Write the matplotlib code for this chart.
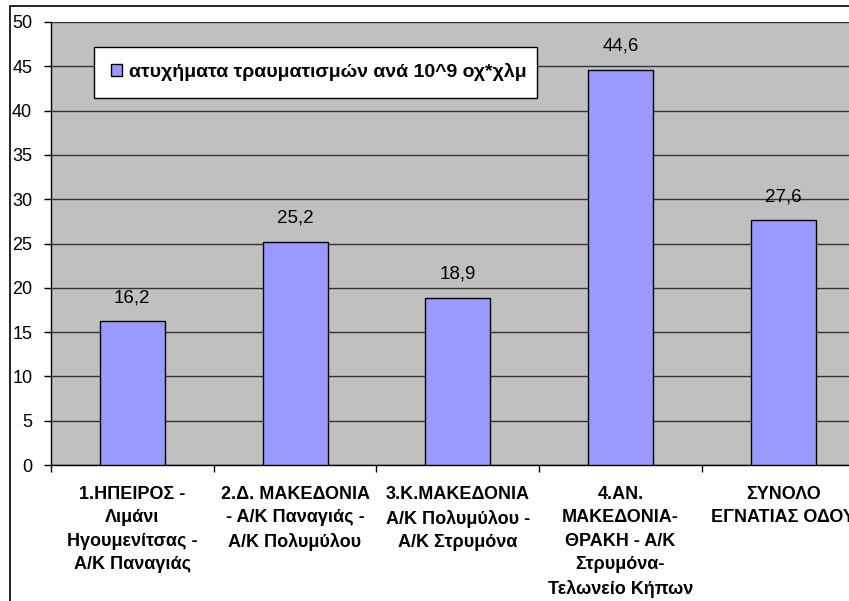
import matplotlib.pyplot as plt
from matplotlib.patches import Rectangle

plt.rcParams['font.family'] = ['Liberation Sans', 'DejaVu Sans']

categories = [
    "1.ΗΠΕΙΡΟΣ -\nΛιμάνι\nΗγουμενίτσας -\nΑ/Κ Παναγιάς",
    "2.Δ. ΜΑΚΕΔΟΝΙΑ\n- Α/Κ Παναγιάς -\nΑ/Κ Πολυμύλου",
    "3.Κ.ΜΑΚΕΔΟΝΙΑ\nΑ/Κ Πολυμύλου -\nΑ/Κ Στρυμόνα",
    "4.ΑΝ.\nΜΑΚΕΔΟΝΙΑ-\nΘΡΑΚΗ - Α/Κ\nΣτρυμόνα-\nΤελωνείο Κήπων",
    "ΣΥΝΟΛΟ\nΕΓΝΑΤΙΑΣ ΟΔΟΥ",
]
values = [16.2, 25.2, 18.9, 44.6, 27.6]
value_labels = ["16,2", "25,2", "18,9", "44,6", "27,6"]
series_name = "ατυχήματα τραυματισμών ανά 10^9 οχ*χλμ"
y_ticks = [0, 5, 10, 15, 20, 25, 30, 35, 40, 45, 50]

W, H = 849, 601
fig = plt.figure(figsize=(W / 100, H / 100), dpi=100)
fig.patch.set_facecolor('white')

# outer chart border (cropped at right/bottom)
fig.patches.append(Rectangle((10 / W, -0.1), 1.2, (H - 6) / H + 0.1,
                             transform=fig.transFigure, fill=False,
                             edgecolor='black', linewidth=1.2))

left, top, bottom = 51, 22, 465
cat_w = 162.7
ax = fig.add_axes([left / W, (H - bottom) / H, 5 * cat_w / W, (bottom - top) / H])
ax.set_facecolor('#C0C0C0')

x = list(range(len(values)))
bars = ax.bar(x, values, width=0.4, color='#9999FF', edgecolor='black',
              linewidth=1.0, label=series_name, zorder=3)

for xi, v, lab in zip(x, values, value_labels):
    ax.annotate(lab, (xi, v), xytext=(0, 11), textcoords='offset points',
                ha='center', va='bottom', fontsize=13.5)

ax.set_xlim(-0.5, len(values) - 0.5)
ax.set_ylim(0, 50)
ax.set_yticks(y_ticks)
ax.set_yticklabels([str(t) for t in y_ticks], fontsize=13)
ax.tick_params(axis='y', length=5, pad=8.5, width=1)
ax.set_xticks([i - 0.5 for i in x] + [len(values) - 0.5], minor=False)
ax.set_xticklabels([''] * (len(values) + 1))
ax.tick_params(axis='x', length=5, width=1)
ax.set_xticks(x, minor=True)
ax.set_xticklabels(categories, minor=True, fontsize=13, fontweight='bold',
                   linespacing=1.5)
ax.tick_params(axis='x', which='minor', length=0, pad=15)

ax.yaxis.grid(True, color='#333333', linewidth=1.0, zorder=1)
ax.set_axisbelow(True)
for side in ('top', 'right'):
    ax.spines[side].set_visible(False)
ax.spines['left'].set_linewidth(1.0)
ax.spines['bottom'].set_linewidth(1.0)

leg = ax.legend(loc='center', bbox_to_anchor=(0.053, 0.828, 0.544, 0.118),
                mode='expand', fancybox=False, shadow=False, framealpha=1,
                edgecolor='black', prop={'weight': 'bold', 'size': 14},
                handlelength=0.6, handleheight=0.6, borderpad=0.85,
                handletextpad=0.35, borderaxespad=0)
leg.get_frame().set_linewidth(1.0)

fig.savefig('out.png', dpi=100)
